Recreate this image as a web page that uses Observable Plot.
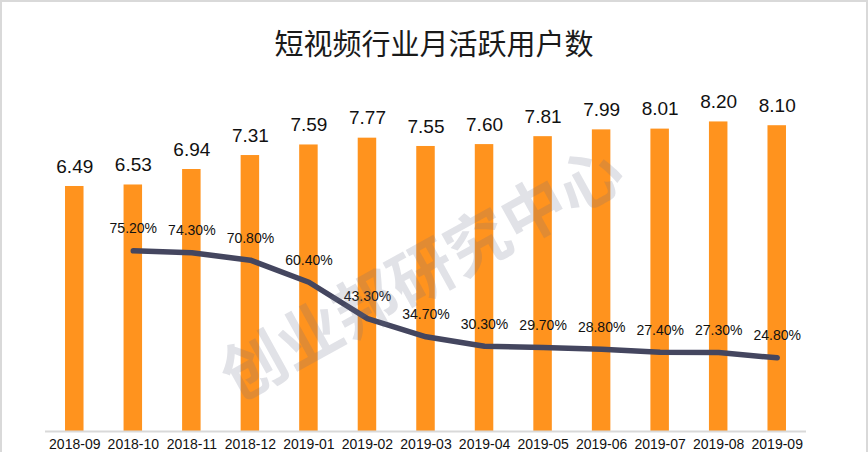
<!DOCTYPE html>
<html>
<head>
<meta charset="utf-8">
<script src="https://cdn.jsdelivr.net/npm/d3@7"></script>
<script src="https://cdn.jsdelivr.net/npm/@observablehq/plot@0.6"></script>
<style>
  html, body { margin: 0; padding: 0; background: #fff; overflow: hidden; }
  #wrap { position: relative; width: 868px; height: 452px; overflow: hidden;
          box-shadow: inset 2px 2px 0 #d9d9d9, inset -2px 0 0 #d9d9d9; }
  #title { position: absolute; left: 0; width: 868px; top: 22px; text-align: center;
           font: 29px/40px "Noto Sans CJK SC", sans-serif; color: #1a1a1a; }
  #chart_1 { position: absolute; left: 0; top: 0; }
</style>
</head>
<body>
<div id="wrap">
  <div id="chart_1"></div>
  <div id="title">短视频行业月活跃用户数</div>
</div>
<script>
const meses = ['2018-09','2018-10','2018-11','2018-12','2019-01','2019-02','2019-03','2019-04','2019-05','2019-06','2019-07','2019-08','2019-09'];
const usuarios = [6.49,6.53,6.94,7.31,7.59,7.77,7.55,7.60,7.81,7.99,8.01,8.20,8.10];
const mesesPct = meses.slice(1);
const penetracion = [75.2,74.3,70.8,60.4,43.3,34.7,30.3,29.7,28.8,27.4,27.3,24.8];

// segundo eje: el porcentaje se dibuja sobre la misma escala y
const y2 = d => 0.556 + d * 0.05624;

const barras = meses.map((mes, i) => ({mes, valor: usuarios[i]}));
const linea = mesesPct.map((mes, i) => ({mes, valor: penetracion[i], y: y2(penetracion[i])}));

let chart = Plot.plot({
  width: 868,
  height: 452,
  marginLeft: 45,
  marginRight: 62,
  marginTop: 20,
  marginBottom: 21,
  x: {domain: meses, label: null, paddingInner: 0.684, paddingOuter: 0.342, round: false, axis: null},
  y: {domain: [0, 10.887], axis: null},
  style: {fontFamily: '"Liberation Sans", Arial, sans-serif', background: 'transparent', overflow: 'hidden'},
  marks: [
    Plot.barY(barras, {x: 'mes', y: 'valor', fill: '#ff931e'}),
    Plot.ruleY([0], {stroke: '#d9d9d9', strokeWidth: 2}),
    Plot.line(linea, {x: 'mes', y: 'y', stroke: '#44465f', strokeWidth: 5.5, curve: 'linear', strokeLinecap: 'round', strokeLinejoin: 'round'}),
    Plot.text(barras, {x: 'mes', y: 'valor', text: d => d.valor.toFixed(2), dy: -20, fontSize: 19, fill: '#111'}),
    Plot.text(linea, {x: 'mes', y: 'y', text: d => d.valor.toFixed(2) + '%', dy: -22, fontSize: 14, fill: '#111'}),
    Plot.axisX({domain: meses, tickSize: 0, tickPadding: 8, fontSize: 14, fill: '#111', label: null}),
    Plot.text(['创业邦研究中心'], {frameAnchor: 'middle', rotate: -29, dx: -3, dy: 49.5, fontSize: 64, fontWeight: 'bold', fill: '#6b7085', fillOpacity: 0.2, fontFamily: '"Noto Sans CJK SC"'})
  ]
})

d3.select('#chart_1').append(() => chart)
</script>
</body>
</html>
